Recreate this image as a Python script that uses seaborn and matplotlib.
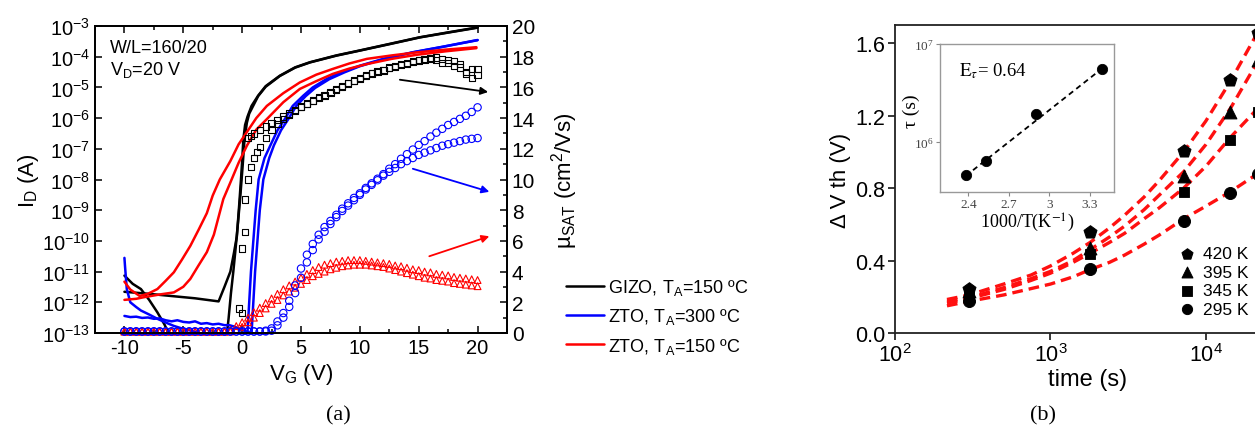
import numpy as np
import pandas as pd
import matplotlib
matplotlib.use("Agg")
import matplotlib.pyplot as plt
import matplotlib.ticker as mticker
import seaborn as sns

sns.set_style("ticks")
plt.rcParams.update({
    'font.family': ['Liberation Sans', 'DejaVu Sans'],
    'mathtext.fontset': 'custom',
    'mathtext.rm': 'Liberation Sans',
    'mathtext.it': 'Liberation Sans:italic',
    'mathtext.bf': 'Liberation Sans:bold',
    'axes.unicode_minus': False,
    'axes.edgecolor': 'black',
    'axes.linewidth': 1.3,
    'text.color': 'black',
    'axes.labelcolor': 'black',
    'xtick.color': 'black',
    'ytick.color': 'black',
})

W, H = 1255, 435

# ---------------- panel (a): transfer curves, I_D (left, log) ----------------
gizo_fwd_v = [-10, -8, -6, -4, -2, -1.5, -1.0, -0.7, -0.45, -0.25, -0.1, 0.0, 0.1, 0.25, 0.45,
              0.8, 1.36, 2.0, 3.2, 4.5, 5.76, 8, 10, 12.5, 15.1, 17.5, 20]
gizo_fwd_i = [2.2e-12, 1.9e-12, 1.6e-12, 1.35e-12, 1.07e-12, 3.2e-12, 1e-11, 4e-11, 1.4e-10, 1.5e-9,
              1e-8, 4e-8, 2e-7, 6e-7, 1.1e-6, 2.5e-6, 5.4e-6, 1.1e-5, 2.4e-5, 4.5e-5, 6.6e-5,
              1.1e-4, 1.6e-4, 2.6e-4, 4.3e-4, 6.2e-4, 9e-4]
gizo_rev_v = [-10, -9.3, -8.6, -7.9, -7.2, -6.6, -6.0, -3, -1.35, -1.15, -0.95, -0.75, -0.55, -0.35,
              -0.15, 0.05, 0.2, 0.4, 0.6, 1.36, 2.0, 3.2, 4.5, 5.76, 8, 10, 12.5, 15.1, 17.5, 20]
gizo_rev_i = [7.4e-12, 4e-12, 2.7e-12, 1.2e-12, 4.7e-13, 1.9e-13, 6e-14, 6e-14, 6e-14, 3e-13, 2e-12,
              1e-11, 6e-11, 4e-10, 3e-9, 3e-8, 2e-7, 7e-7, 1.4e-6, 5.2e-6, 1.05e-5, 2.35e-5, 4.4e-5,
              6.5e-5, 1.08e-4, 1.58e-4, 2.55e-4, 4.25e-4, 6.1e-4, 8.8e-4]

zto300_a_v = [-10, -9.95, -9.8, -9.5, -9.0, -8.6, -7.9, -7.2, -6.5, -5.8, -5.1, -4.4, -3.8, -3.3,
              0.3, 0.45, 0.6, 0.75, 0.95, 1.15, 1.4, 1.9, 2.4, 3.0, 3.6, 4.3, 5.2, 6.0, 7.2, 8.5,
              10, 12, 14.5, 17, 20]
zto300_a_i = [2.8e-11, 1.5e-11, 2.7e-12, 1e-12, 7e-13, 5.4e-13, 4e-13, 2.9e-13, 2.2e-13, 1.7e-13,
              1.4e-13, 1.2e-13, 1.05e-13, 7e-14, 7e-14, 1e-13, 1e-12, 1e-11, 1e-10, 1e-9, 1e-8,
              5e-8, 1.3e-7, 4e-7, 9e-7, 2.5e-6, 5.4e-6, 1e-5, 1.9e-5, 3.2e-5, 5.1e-5, 8.5e-5,
              1.4e-4, 2.1e-4, 3.5e-4]
zto300_b_v = [-10, -9.5, -9, -8.5, -8, -7.5, -7, -6.5, -6, -5.5, -5, -4.5, -4, -3.5, -3, -2.5, -2,
              -1.5, -1.1, -0.6, -0.1, 0.4, 0.8, 0.95, 1.1, 1.3, 1.5, 1.8, 2.3, 2.7, 3.3, 3.9, 4.6,
              5.4, 6.2, 7.4, 8.7, 10, 12, 14.5, 17, 20]
zto300_b_i = [3.6e-13, 3.3e-13, 3.4e-13, 3.1e-13, 3.2e-13, 2.9e-13, 3.0e-13, 2.6e-13, 2.4e-13,
              2.6e-13, 2.3e-13, 2.2e-13, 2.4e-13, 2.0e-13, 2.1e-13, 1.9e-13, 2.0e-13, 1.8e-13,
              1.8e-13, 1.6e-13, 1.3e-13, 1.1e-13, 1e-13, 1e-12, 1e-11, 1e-10, 1e-9, 1e-8, 5e-8,
              1.3e-7, 4e-7, 9e-7, 2.5e-6, 5.2e-6, 9.6e-6, 1.85e-5, 3.1e-5, 4.9e-5, 8.3e-5,
              1.38e-4, 2.08e-4, 3.45e-4]

zto150_a_v = [-10, -9, -8.4, -7, -5.8, -5, -4.4, -3.7, -3.0, -2.4, -1.6, -1.0, -0.3, 0.4, 1.2,
              2.1, 3.5, 4.9, 6.3, 7.7, 9.1, 10.6, 12.7, 14.8, 17.3, 19.9]
zto150_a_i = [1.2e-12, 1.3e-12, 1.45e-12, 1.8e-12, 2.1e-12, 3.2e-12, 5.8e-12, 1.6e-11, 4.3e-11,
              1.6e-10, 2.3e-9, 8e-9, 3.5e-8, 1.26e-7, 4.2e-7, 9.3e-7, 3.3e-6, 8.9e-6, 1.6e-5,
              2.75e-5, 4.1e-5, 5.75e-5, 8.5e-5, 1.15e-4, 1.5e-4, 1.9e-4]
zto150_b_v = [-10, -9.5, -8.7, -8, -7.2, -6.5, -5.8, -5.1, -4.4, -3.7, -3.0, -2.5, -1.9, -1.0,
              -0.3, 0.4, 1.2, 2.1, 3.5, 4.9, 6.3, 7.7, 9.1, 10.6, 12.7, 14.8, 17.3, 19.9]
zto150_b_i = [4.7e-12, 2.6e-12, 1.6e-12, 1.9e-12, 2.7e-12, 5e-12, 9.5e-12, 2.5e-11, 6.9e-11,
              2.3e-10, 8e-10, 3e-9, 1e-8, 4e-8, 1.4e-7, 3.5e-7, 1e-6, 2.5e-6, 6.5e-6, 1.45e-5,
              2.6e-5, 4e-5, 6e-5, 8.5e-5, 1.1e-4, 1.38e-4, 1.7e-4, 2.04e-4]

# ---------------- panel (a): saturation mobility (right axis) ----------------
vg_sweep = [-10, -9.5, -9, -8.5, -8, -7.5, -7, -6.5, -6, -5.5, -5, -4.5, -4, -3.5, -3, -2.5, -2,
            -1.5, -1, -0.5, 0, 0.5, 1, 1.5, 2, 2.5, 3, 3.5, 4, 4.5, 5, 5.5, 6, 6.5, 7, 7.5, 8,
            8.5, 9, 9.5, 10, 10.5, 11, 11.5, 12, 12.5, 13, 13.5, 14, 14.5, 15, 15.5, 16, 16.5,
            17, 17.5, 18, 18.5, 19, 19.5, 20]
mu_zto300_a = [0.1] * 24 + [0.15, 0.3, 0.75, 1.3, 2.1, 3.1, 4.2, 5.1, 5.8, 6.4, 6.9, 7.3, 7.7,
                            8.1, 8.45, 8.8, 9.1, 9.45, 9.75, 10.05, 10.35, 10.7, 11.0, 11.35,
                            11.65, 11.95, 12.25, 12.5, 12.8, 13.05, 13.3, 13.55, 13.75, 13.95,
                            14.15, 14.4, 14.7]
mu_zto300_b = [0.1] * 25 + [0.15, 0.5, 1.0, 1.7, 2.6, 3.6, 4.6, 5.4, 6.1, 6.6, 7.1, 7.55, 7.95,
                            8.3, 8.65, 9.0, 9.35, 9.65, 9.95, 10.25, 10.5, 10.75, 11.0, 11.2,
                            11.4, 11.6, 11.75, 11.9, 12.05, 12.2, 12.3, 12.4, 12.5, 12.6, 12.65,
                            12.7]
mu_zto150_a = [0.1] * 17 + [0.1, 0.2, 0.45, 0.7, 1.0, 1.35, 1.65, 1.95, 2.25, 2.55, 2.85, 3.1,
                            3.35, 3.6, 3.85, 4.1, 4.3, 4.45, 4.55, 4.65, 4.7, 4.75, 4.75, 4.75,
                            4.7, 4.65, 4.6, 4.55, 4.5, 4.4, 4.35, 4.25, 4.15, 4.1, 4.0, 3.95,
                            3.85, 3.8, 3.75, 3.65, 3.6, 3.55, 3.5, 3.45]
mu_zto150_b = [0.1] * 18 + [0.1, 0.2, 0.4, 0.7, 1.0, 1.3, 1.6, 1.9, 2.15, 2.45, 2.7, 2.95, 3.2,
                            3.45, 3.7, 3.85, 4.0, 4.15, 4.25, 4.35, 4.4, 4.45, 4.45, 4.45, 4.4,
                            4.35, 4.3, 4.2, 4.1, 4.0, 3.9, 3.8, 3.7, 3.6, 3.55, 3.45, 3.4, 3.35,
                            3.25, 3.2, 3.15, 3.1, 3.05]
sq_a_v = [-0.25, 0.0, 0.25, 0.5, 0.75, 1.0, 1.5, 2.0, 2.5, 3.0, 3.5, 4.0, 4.5, 5, 5.5, 6, 6.5, 7,
          7.5, 8, 8.5, 9, 9.5, 10, 10.5, 11, 11.5, 12, 12.5, 13, 13.5, 14, 14.5, 15, 15.5, 16,
          16.5, 17, 17.5, 18, 18.5, 19, 19.5, 20]
mu_gizo_a = [1.6, 5.5, 8.7, 12.7, 12.85, 13.0, 13.2, 13.45, 13.7, 13.9, 14.1, 14.3, 14.55, 14.75,
             14.95, 15.15, 15.35, 15.5, 15.7, 15.9, 16.1, 16.3, 16.45, 16.6, 16.8, 16.95, 17.05,
             17.15, 17.3, 17.4, 17.5, 17.6, 17.7, 17.8, 17.85, 17.9, 17.95, 17.85, 17.6, 17.7,
             17.3, 17.0, 17.2, 16.8]
sq_b_v = [0.0, 0.25, 0.5, 0.75, 1.0, 1.25, 1.5, 2.0, 2.5, 3.0, 3.5, 4.0, 4.5, 5, 5.5, 6, 6.5, 7,
          7.5, 8, 8.5, 9, 9.5, 10, 10.5, 11, 11.5, 12, 12.5, 13, 13.5, 14, 14.5, 15, 15.5, 16,
          16.5, 17, 17.5, 18, 18.5, 19, 19.5, 20]
mu_gizo_b = [1.3, 6.6, 10.0, 10.8, 11.4, 11.8, 12.1, 12.7, 13.2, 13.6, 13.95, 14.2, 14.45, 14.7,
             14.9, 15.1, 15.3, 15.45, 15.65, 15.85, 16.05, 16.25, 16.4, 16.55, 16.75, 16.9,
             17.0, 17.1, 17.25, 17.35, 17.45, 17.55, 17.65, 17.75, 17.8, 17.85, 17.8, 17.6,
             17.8, 17.4, 17.5, 16.9, 16.6, 17.2]

legend_a = ["GIZO, T$_\\mathrm{A}$=150 ºC", "ZTO, T$_\\mathrm{A}$=300 ºC", "ZTO, T$_\\mathrm{A}$=150 ºC"]

# ---------------- panel (b): threshold shift vs stress time ----------------
t_meas = [300, 1800, 7200, 14400, 21600]
dv_420 = [0.244, 0.559, 1.004, 1.397, 1.655]
dv_395 = [0.23, 0.47, 0.868, 1.22, 1.508]
dv_345 = [0.21, 0.437, 0.78, 1.065, 1.22]
dv_295 = [0.177, 0.354, 0.62, 0.775, 0.88]
temps = ["420 K", "395 K", "345 K", "295 K"]

t_fit = [216, 300, 500, 750, 1000, 1400, 1800, 2400, 3000, 4000, 5000, 7200, 10000, 14400, 21600, 30000]
fit_420 = [0.185, 0.21, 0.27, 0.32, 0.37, 0.44, 0.50, 0.58, 0.65, 0.75, 0.84, 1.0, 1.17, 1.39, 1.66, 1.9]
fit_395 = [0.175, 0.195, 0.25, 0.30, 0.34, 0.40, 0.46, 0.53, 0.59, 0.68, 0.76, 0.89, 1.04, 1.24, 1.50, 1.75]
fit_345 = [0.165, 0.19, 0.24, 0.29, 0.33, 0.39, 0.44, 0.50, 0.55, 0.63, 0.69, 0.80, 0.92, 1.08, 1.24, 1.40]
fit_295 = [0.15, 0.175, 0.21, 0.245, 0.27, 0.31, 0.35, 0.39, 0.43, 0.49, 0.54, 0.63, 0.70, 0.78, 0.88, 0.97]

# inset: Arrhenius plot of tau
inv_T = [2.38, 2.53, 2.90, 3.39]
tau_s = [4.6e5, 6.4e5, 1.93e6, 5.56e6]
arr_fit_x = [2.38, 3.39]
arr_fit_tau = [4.5e5, 5.6e6]

fig = plt.figure(figsize=(W / 100, H / 100), dpi=100)

# ======================= (a) =======================
ax = fig.add_axes([95 / W, 1 - 334 / H, 412 / W, 307 / H])
ax.set_yscale('log')
lw = 1.8
sns.lineplot(x=gizo_fwd_v, y=gizo_fwd_i, ax=ax, color='black', lw=lw, sort=False, estimator=None, label=legend_a[0])
sns.lineplot(x=gizo_rev_v, y=gizo_rev_i, ax=ax, color='black', lw=lw, sort=False, estimator=None)
sns.lineplot(x=zto300_a_v, y=zto300_a_i, ax=ax, color='#0000ff', lw=lw, sort=False, estimator=None, label=legend_a[1])
sns.lineplot(x=zto300_b_v, y=zto300_b_i, ax=ax, color='#0000ff', lw=lw, sort=False, estimator=None)
sns.lineplot(x=zto150_a_v, y=zto150_a_i, ax=ax, color='#ff0000', lw=lw, sort=False, estimator=None, label=legend_a[2])
sns.lineplot(x=zto150_b_v, y=zto150_b_i, ax=ax, color='#ff0000', lw=lw, sort=False, estimator=None)
ax.set_xlim(-12.5, 22.5)
ax.set_ylim(1e-13, 1e-3)
ax.xaxis.set_major_locator(mticker.MultipleLocator(5))
ax.xaxis.set_minor_locator(mticker.MultipleLocator(2.5))
ax.yaxis.set_major_locator(mticker.LogLocator(base=10, numticks=20))
ax.yaxis.set_minor_locator(mticker.NullLocator())
ax.tick_params(which='both', direction='in', top=True, right=False, labelsize=14.5, width=1.1)
ax.tick_params(which='major', length=5)
ax.tick_params(which='minor', length=3)
ax.set_xlabel('V$_\\mathrm{G}$ (V)', fontsize=16, labelpad=3)
ax.set_ylabel('I$_\\mathrm{D}$ (A)', fontsize=16, labelpad=1)
ax.text(0.036, 0.93, 'W/L=160/20', transform=ax.transAxes, fontsize=13, va='center')
ax.text(0.036, 0.86, 'V$_\\mathrm{D}$=20 V', transform=ax.transAxes, fontsize=13, va='center')

handles, labels = ax.get_legend_handles_labels()
ax.legend(handles, labels, loc='upper left', bbox_to_anchor=(566 / W, 1 - 278 / H),
          bbox_transform=fig.transFigure, frameon=False, fontsize=13, handlelength=2.1,
          handletextpad=0.25, labelspacing=0.52, borderaxespad=0, borderpad=0)

ax2 = ax.twinx()
mk = dict(linewidths=0.8, clip_on=False, legend=False)
sns.scatterplot(x=vg_sweep, y=mu_zto150_b, ax=ax2, marker='^', s=24, color='#ff0000', facecolor='none', edgecolor='#ff0000', **mk)
sns.scatterplot(x=vg_sweep, y=mu_zto150_a, ax=ax2, marker='^', s=24, color='#ff0000', facecolor='none', edgecolor='#ff0000', **mk)
sns.scatterplot(x=vg_sweep, y=mu_zto300_b, ax=ax2, marker='o', s=28, color='#0000ff', facecolor='none', edgecolor='#0000ff', **mk)
sns.scatterplot(x=vg_sweep, y=mu_zto300_a, ax=ax2, marker='o', s=28, color='#0000ff', facecolor='none', edgecolor='#0000ff', **mk)
sns.scatterplot(x=sq_b_v, y=mu_gizo_b, ax=ax2, marker='s', s=20, color='black', facecolor='none', edgecolor='black', **mk)
sns.scatterplot(x=sq_a_v, y=mu_gizo_a, ax=ax2, marker='s', s=20, color='black', facecolor='none', edgecolor='black', **mk)
ax2.set_ylim(0, 20)
ax2.yaxis.set_major_locator(mticker.MultipleLocator(2))
ax2.yaxis.set_minor_locator(mticker.MultipleLocator(1))
ax2.tick_params(which='both', direction='in', labelsize=15, width=1.1)
ax2.tick_params(which='major', length=5)
ax2.tick_params(which='minor', length=3)
ax2.set_ylabel('µ$_\\mathrm{SAT}$ (cm$^\\mathrm{2}$/Vs)', fontsize=16, labelpad=10)

arrows = [((13.4, 16.5), (20.9, 15.7), 'black'),
          ((14.5, 10.7), (21.0, 9.2), '#0000ff'),
          ((15.9, 5.0), (21.0, 6.3), '#ff0000')]
for start, end, c in arrows:
    ax2.annotate('', xy=end, xytext=start, annotation_clip=False,
                 arrowprops=dict(arrowstyle='-|>', color=c, lw=1.3, mutation_scale=11,
                                 shrinkA=0, shrinkB=0))

# ======================= (b) =======================
axb = fig.add_axes([895 / W, 1 - 334 / H, 385 / W, 308 / H])
axb.set_xscale('log')
for fit in [fit_420, fit_395, fit_345, fit_295]:
    sns.lineplot(x=t_fit, y=fit, ax=axb, color='#ff1010', lw=2.4, linestyle=(0, (3.2, 1.8)),
                 sort=False, estimator=None)
for vals, m, lab, s in [(dv_420, 'p', temps[0], 95), (dv_395, '^', temps[1], 85),
                        (dv_345, 's', temps[2], 60), (dv_295, 'o', temps[3], 75)]:
    sns.scatterplot(x=t_meas, y=vals, ax=axb, marker=m, s=s, color='black', edgecolor='black',
                    label=lab, zorder=3)
axb.set_xlim(100, 30000)
axb.set_ylim(0, 1.7)
axb.set_yticks([0.0, 0.4, 0.8, 1.2, 1.6])
axb.yaxis.set_major_formatter(mticker.FormatStrFormatter('%.1f'))
axb.xaxis.set_major_locator(mticker.LogLocator(base=10, numticks=10))
axb.xaxis.set_minor_locator(mticker.NullLocator())
axb.tick_params(which='major', direction='out', length=5, width=1.1, labelsize=15.5, pad=2)
for sp in ['left', 'bottom', 'top']:
    axb.spines[sp].set_color('#222222')
axb.set_xlabel('time (s)', fontsize=17, labelpad=2)
axb.set_ylabel('Δ V th (V)', fontsize=16, labelpad=3)
hb, lb = axb.get_legend_handles_labels()
axb.legend(hb, lb, loc='upper left', bbox_to_anchor=(1177 / W, 1 - 247 / H),
           bbox_transform=fig.transFigure, frameon=False, fontsize=12.5, handletextpad=0.3,
           labelspacing=0.2, borderaxespad=0, borderpad=0, handlelength=1.2, markerscale=0.85)

# inset
axi = fig.add_axes([940 / W, 1 - 193 / H, 174 / W, 148 / H])
axi.set_yscale('log')
sns.lineplot(x=arr_fit_x, y=arr_fit_tau, ax=axi, color='black', lw=1.3, linestyle=(0, (3, 2.2)),
             sort=False, estimator=None)
sns.scatterplot(x=inv_T, y=tau_s, ax=axi, color='black', edgecolor='black', s=55, zorder=3)
axi.set_xlim(2.19, 3.48)
axi.set_ylim(10 ** 5.49, 1e7)
axi.set_xticks([2.4, 2.7, 3.0, 3.3])
axi.set_xticklabels(['2.4', '2.7', '3', '3.3'])
axi.set_yticks([1e6, 1e7])
axi.set_yticklabels(['$\\mathregular{10^{6}}$', '$\\mathregular{10^{7}}$'])
axi.yaxis.set_minor_locator(mticker.NullLocator())
axi.tick_params(which='major', direction='out', length=3, width=0.8, color='#888888',
                labelsize=9.5, labelcolor='#444444', pad=1.5)
for lbl in axi.get_xticklabels() + axi.get_yticklabels():
    lbl.set_fontfamily('Liberation Serif')
for sp in axi.spines.values():
    sp.set_color('#999999')
    sp.set_linewidth(1.0)
axi.set_xlabel('1000/T(K$^{-1}$)', fontsize=13, family='Liberation Serif', math_fontfamily='stix', labelpad=0)
axi.set_ylabel('')
axi.text(-0.165, 0.55, 'τ (s)', transform=axi.transAxes, rotation=90, fontsize=14,
         family=['Liberation Serif', 'DejaVu Serif'], ha='center', va='center')
axi.text(0.11, 0.82, '$\\mathrm{E}_{\\tau}$= 0.64', transform=axi.transAxes, fontsize=13.5,
         family='Liberation Serif', math_fontfamily='stix', va='center')

# captions
fig.text(338 / W, 1 - 416 / H, '(a)', fontsize=16, family='Liberation Serif', ha='center', va='center')
fig.text(1043 / W, 1 - 416 / H, '(b)', fontsize=16, family='Liberation Serif', ha='center', va='center')

fig.savefig('out.png', dpi=100)
